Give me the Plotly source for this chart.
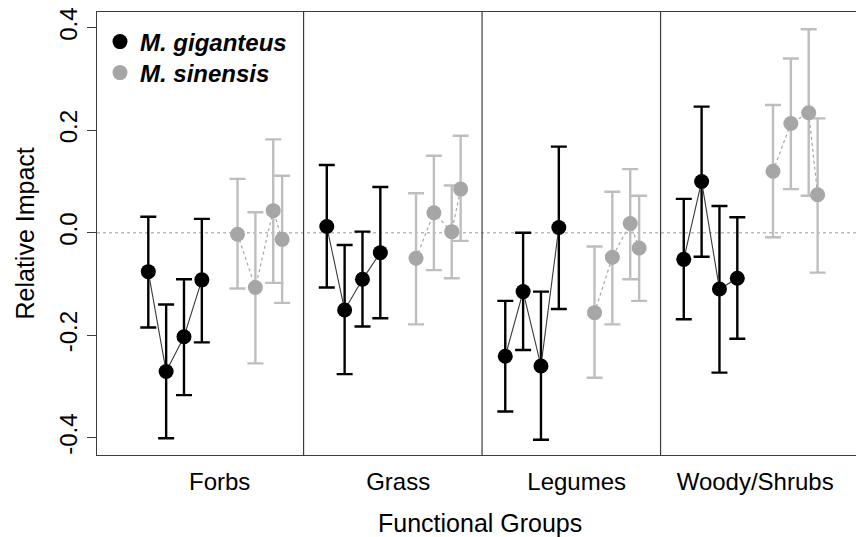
import plotly.graph_objects as go

# ---- data ----
categories = ["Forbs", "Grass", "Legumes", "Woody/Shrubs"]
group_centers = [5, 15, 25, 35]
group_separators = [9.7, 19.7, 29.7]
gig_offsets = [-4, -3, -2, -1]
sin_offsets = [1, 2, 3, 3.5]

gig_mean = [[-0.076, -0.271, -0.203, -0.092],
            [0.012, -0.151, -0.091, -0.039],
            [-0.241, -0.115, -0.260, 0.010],
            [-0.052, 0.100, -0.110, -0.089]]
gig_upper = [[0.031, -0.140, -0.091, 0.027],
             [0.132, -0.024, 0.002, 0.089],
             [-0.133, 0.000, -0.115, 0.168],
             [0.066, 0.246, 0.052, 0.030]]
gig_lower = [[-0.185, -0.401, -0.317, -0.214],
             [-0.107, -0.276, -0.183, -0.167],
             [-0.349, -0.229, -0.404, -0.149],
             [-0.169, -0.047, -0.273, -0.207]]

sin_mean = [[-0.003, -0.107, 0.043, -0.013],
            [-0.050, 0.039, 0.002, 0.085],
            [-0.156, -0.048, 0.018, -0.030],
            [0.120, 0.213, 0.234, 0.074]]
sin_upper = [[0.105, 0.040, 0.182, 0.111],
             [0.077, 0.150, 0.092, 0.189],
             [-0.027, 0.080, 0.124, 0.072],
             [0.249, 0.340, 0.397, 0.223]]
sin_lower = [[-0.109, -0.255, -0.098, -0.137],
             [-0.179, -0.073, -0.089, -0.016],
             [-0.283, -0.179, -0.091, -0.133],
             [-0.009, 0.085, 0.072, -0.078]]

y_ticks = [-0.4, -0.2, 0.0, 0.2, 0.4]
y_ticktext = ["-0.4", "-0.2", "0.0", "0.2", "0.4"]

FONT = "Arial, Liberation Sans, sans-serif"
FS = 24
FS_TITLE = 25
fig = go.Figure()

def add_series(means, uppers, lowers, offsets, mcolor, ecolor, lcolor, ldash, lwidth):
    for g, c in enumerate(group_centers):
        xs = [c + o for o in offsets]
        ys = means[g]
        up = [u - m for u, m in zip(uppers[g], ys)]
        dn = [m - l for m, l in zip(ys, lowers[g])]
        fig.add_trace(go.Scatter(
            x=xs, y=ys, mode="lines+markers", showlegend=False,
            line=dict(color=lcolor, width=lwidth, dash=ldash),
            marker=dict(color=mcolor, size=15),
            error_y=dict(type="data", symmetric=False, array=up, arrayminus=dn,
                         color=ecolor, thickness=2.4, width=8),
            hoverinfo="x+y"))

add_series(sin_mean, sin_upper, sin_lower, sin_offsets,
           "#A6A6A6", "#BEBEBE", "#A6A6A6", "3px,3px", 1.2)
add_series(gig_mean, gig_upper, gig_lower, gig_offsets,
           "#000000", "#000000", "#3A3A3A", "solid", 1.1)

# legend-only traces (each in its own legend box for exact placement)
fig.add_trace(go.Scatter(x=[None], y=[None], mode="markers", legend="legend",
                         name="<b><i>M. giganteus</i></b>",
                         marker=dict(color="#000000", size=15)))
fig.add_trace(go.Scatter(x=[None], y=[None], mode="markers", legend="legend2",
                         name="<b><i>M. sinensis</i></b>",
                         marker=dict(color="#A6A6A6", size=15)))

shapes = [dict(type="line", xref="paper", x0=0, x1=1, yref="y", y0=0, y1=0,
               line=dict(color="#BBBBBB", width=1.5, dash="dot"), layer="below")]
for s in group_separators:
    shapes.append(dict(type="line", xref="x", x0=s, x1=s, yref="paper", y0=0, y1=1,
                       line=dict(color="#3C3C3C", width=1.2), layer="below"))

PL, PT, PW, PH = 97, 12, 759, 443  # plot area in pixels

def legend_box(center_y_px):
    return dict(x=3 / PW, y=1 - (center_y_px - PT) / PH,
                xanchor="left", yanchor="middle",
                bgcolor="rgba(0,0,0,0)", font=dict(size=FS))

fig.update_layout(
    width=856, height=537,
    margin=dict(l=PL, r=856 - PL - PW, t=PT, b=537 - PT - PH, autoexpand=False),
    plot_bgcolor="white", paper_bgcolor="white",
    font=dict(family=FONT, size=FS, color="#000000"),
    shapes=shapes,
    showlegend=True,
    legend=legend_box(42),
    legend2=legend_box(73),
    xaxis=dict(range=[-1.874, 40.65], tickvals=group_centers, ticktext=categories,
               ticks="", showgrid=False, zeroline=False, automargin=False,
               showline=True, mirror=True, linecolor="#3C3C3C", linewidth=1.3,
               tickfont=dict(size=FS), ticklabelstandoff=5),
    yaxis=dict(range=[-0.4338, 0.4306], tickvals=y_ticks, ticktext=y_ticktext,
               ticks="outside", ticklen=9, tickcolor="#3C3C3C", tickwidth=1.2,
               tickangle=-90, showgrid=False, zeroline=False, automargin=False,
               showline=True, mirror=False, linecolor="#3C3C3C", linewidth=1.3,
               tickfont=dict(size=FS)),
    annotations=[
        dict(text="Functional Groups", xref="paper", yref="paper",
             x=(480 - PL) / PW, y=-(523 - 455) / PH, xanchor="center",
             yanchor="middle", showarrow=False, font=dict(size=FS_TITLE)),
        dict(text="Relative Impact", xref="paper", yref="paper",
             x=-(PL - 24) / PW, y=0.5, xanchor="center", yanchor="middle",
             textangle=-90, showarrow=False, font=dict(size=FS_TITLE)),
    ],
)

fig.write_html("out.html", config={"displayModeBar": False},
               post_script="document.body.style.margin='0';document.body.style.overflow='hidden';")
